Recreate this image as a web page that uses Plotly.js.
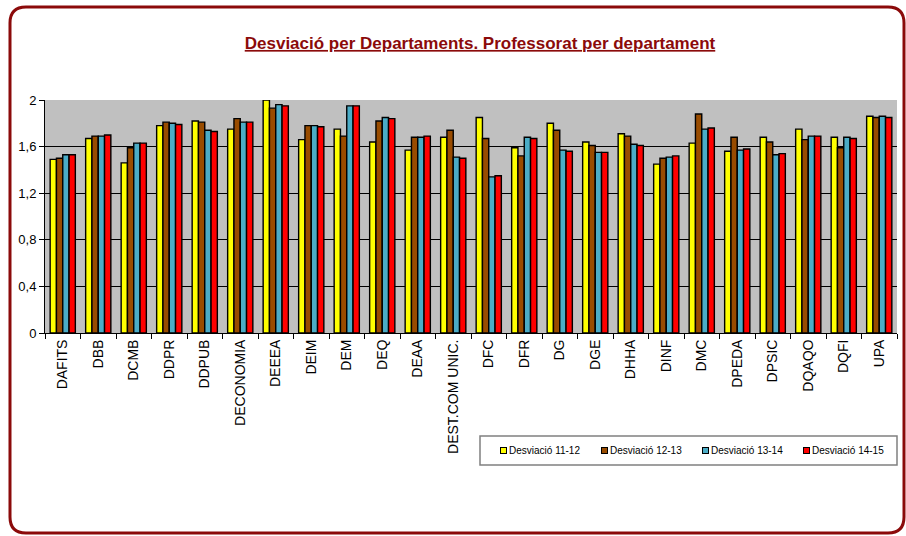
<!DOCTYPE html>
<html>
<head>
<meta charset="utf-8">
<script src="https://cdn.plot.ly/plotly-3.0.1.min.js"></script>
<style>html,body{margin:0;padding:0;background:#fff;}#chart{width:906px;height:536px;}</style>
</head>
<body>
<div id="chart"></div>
<script>
const categories = ["DAFITS","DBB","DCMB","DDPR","DDPUB","DECONOMIA","DEEEA","DEIM","DEM","DEQ","DEAA","DEST.COM UNIC.","DFC","DFR","DG","DGE","DHHA","DINF","DMC","DPEDA","DPSIC","DQAQO","DQFI","UPA"];
const seriesNames = ["Desviació 11-12","Desviació 12-13","Desviació 13-14","Desviació 14-15"];
const dev1112 = [1.49,1.67,1.46,1.78,1.82,1.75,2.00,1.66,1.75,1.64,1.57,1.68,1.85,1.59,1.80,1.64,1.71,1.45,1.63,1.56,1.68,1.75,1.68,1.86];
const dev1213 = [1.50,1.69,1.59,1.81,1.81,1.84,1.93,1.78,1.69,1.82,1.68,1.74,1.67,1.52,1.74,1.61,1.69,1.50,1.88,1.68,1.64,1.66,1.59,1.85];
const dev1314 = [1.53,1.69,1.63,1.80,1.74,1.81,1.96,1.78,1.95,1.85,1.68,1.51,1.34,1.68,1.57,1.55,1.62,1.51,1.75,1.57,1.53,1.69,1.68,1.86];
const dev1415 = [1.53,1.70,1.63,1.79,1.73,1.81,1.95,1.77,1.95,1.84,1.69,1.50,1.35,1.67,1.56,1.55,1.61,1.52,1.76,1.58,1.54,1.69,1.67,1.85];
const colors = ["#FFFF00","#994C00","#4BACC6","#FF0000"];

const seriesValues = [dev1112, dev1213, dev1314, dev1415];
const traces = seriesValues.map((vals, i) => ({
  type: 'bar',
  name: seriesNames[i],
  x: categories,
  y: vals,
  showlegend: false,
  marker: {color: colors[i], line: {color: '#000000', width: 1.4}},
  hoverinfo: 'x+y+name'
}));

// Layout geometry (pixels)
const W = 906, H = 536;
const mL = 45, mR = 9, mT = 100, mB = 203;
const pw = W - mL - mR, ph = H - mT - mB;
const px = v => (v - mL) / pw;
const py = v => (H - mB - v) / ph;

// rounded frame path in paper coords
const bx0 = 10, bx1 = 904, by0 = 7, by1 = 533, r = 16;
function pt(x, y){ return px(x).toFixed(5) + ',' + py(y).toFixed(5); }
const framePath = 'M' + pt(bx0 + r, by0) + ' L' + pt(bx1 - r, by0) + ' Q' + pt(bx1, by0) + ' ' + pt(bx1, by0 + r) +
  ' L' + pt(bx1, by1 - r) + ' Q' + pt(bx1, by1) + ' ' + pt(bx1 - r, by1) +
  ' L' + pt(bx0 + r, by1) + ' Q' + pt(bx0, by1) + ' ' + pt(bx0, by1 - r) +
  ' L' + pt(bx0, by0 + r) + ' Q' + pt(bx0, by0) + ' ' + pt(bx0 + r, by0) + ' Z';

// legend (drawn as box + swatches + labels)
const legFont = {family: '"Liberation Sans", Arial, sans-serif', size: 10, color: '#000'};
const legY = 450;
const annotations = [];
seriesNames.forEach((name, i) => {
  const sx = 503 + 101 * i;
  annotations.push({
    xref: 'paper', yref: 'paper', x: px(sx), y: py(legY), xanchor: 'center', yanchor: 'middle',
    text: ' ', showarrow: false, width: 5, height: 5, borderpad: 0,
    bgcolor: colors[i], bordercolor: '#000', borderwidth: 1, font: {size: 4}
  });
  annotations.push({
    xref: 'paper', yref: 'paper', x: px(sx + 5), y: py(legY), xanchor: 'left', yanchor: 'middle',
    text: name, showarrow: false, font: legFont, borderpad: 0
  });
});

const layout = {
  width: W, height: H,
  margin: {l: mL, r: mR, t: mT, b: mB, autoexpand: false},
  paper_bgcolor: '#FFFFFF',
  plot_bgcolor: '#C0C0C0',
  separators: ', ',
  barmode: 'group',
  bargap: 0.29,
  bargroupgap: 0,
  showlegend: false,
  title: {
    text: '<u>Desviació per Departaments. Professorat per departament</u>',
    font: {family: '"Liberation Sans", Arial, sans-serif', size: 17, color: '#8B0A0A', weight: 'bold'},
    x: 480 / W, xref: 'container', xanchor: 'center',
    y: 1 - 43 / H, yref: 'container', yanchor: 'middle'
  },
  xaxis: {
    type: 'category',
    tickangle: -90,
    ticks: 'outside', ticklen: 5, tickcolor: '#000',
    tickson: 'boundaries',
    showline: true, linecolor: '#000', linewidth: 1,
    showgrid: false,
    tickfont: {family: '"Liberation Sans", Arial, sans-serif', size: 14, color: '#000'},
    automargin: false
  },
  yaxis: {
    range: [0, 2],
    tickvals: [0, 0.4, 0.8, 1.2, 1.6, 2],
    tickformat: '.1~f',
    ticks: 'outside', ticklen: 5, tickcolor: '#000',
    showline: true, linecolor: '#000', linewidth: 1,
    showgrid: true, gridcolor: '#000000', gridwidth: 1,
    zeroline: false,
    tickfont: {family: '"Liberation Sans", Arial, sans-serif', size: 13, color: '#000'},
    automargin: false
  },
  annotations: annotations,
  shapes: [
    {type: 'path', xref: 'paper', yref: 'paper', path: framePath, line: {color: '#8B0A0A', width: 3}, fillcolor: 'rgba(0,0,0,0)', layer: 'below'},
    {type: 'rect', xref: 'paper', yref: 'paper', x0: px(480), x1: px(897), y0: py(436), y1: py(465), line: {color: '#808080', width: 1.5}, fillcolor: '#FFFFFF', layer: 'below'}
  ]
};

Plotly.newPlot('chart', traces, layout, {displayModeBar: false, staticPlot: true});
</script>
</body>
</html>
